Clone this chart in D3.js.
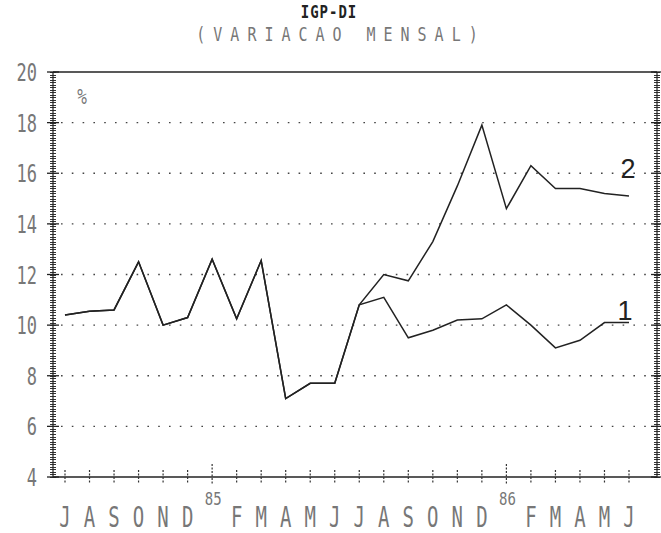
<!DOCTYPE html>
<html>
<head>
<meta charset="utf-8">
<script src="https://d3js.org/d3.v7.min.js"></script>
<style>
    body { margin: 0; background: #fff; }
    .mono { font-family: "DejaVu Sans Mono", monospace; fill: #777; }
</style>
</head>
<body>
<script>
// months from Jul 1984 to Jun 1986, Jan carries the year
var months = ["J", "A", "S", "O", "N", "D", "85", "F", "M", "A", "M", "J",
              "J", "A", "S", "O", "N", "D", "86", "F", "M", "A", "M", "J"];
var series1 = [10.4, 10.55, 10.6, 12.5, 10.0, 10.3, 12.6, 10.25, 12.55, 7.1, 7.7, 7.7,
               10.8, 11.1, 9.5, 9.8, 10.2, 10.25, 10.8, 10.0, 9.1, 9.4, 10.1, 10.1];
var series2 = [10.4, 10.55, 10.6, 12.5, 10.0, 10.3, 12.6, 10.25, 12.55, 7.1, 7.7, 7.7,
               10.8, 12.0, 11.75, 13.3, 15.5, 17.9, 14.6, 16.3, 15.4, 15.4, 15.2, 15.1];
var yTicks = [4, 6, 8, 10, 12, 14, 16, 18, 20];
var seriesNames = ["1", "2"];

var width = 661, height = 533;
var margin = { top: 72, right: 4, bottom: 56, left: 53 };

var svg = d3.select("body").append("svg")
    .attr("width", width)
    .attr("height", height);

var xScale = d3.scalePoint()
    .domain(d3.range(months.length))
    .range([65, 629]);

var yScale = d3.scaleLinear()
    .domain([4, 20])
    .range([height - margin.bottom, margin.top]);

var x0 = margin.left, x1 = width - margin.right;

// dotted grid
svg.append("g").selectAll("line")
    .data(yTicks.filter(function (d) { return d > 4 && d < 20; }))
    .enter().append("line")
    .attr("x1", x0 + 8)
    .attr("x2", x1 - 3)
    .attr("y1", function (d) { return yScale(d); })
    .attr("y2", function (d) { return yScale(d); })
    .attr("stroke", "#444")
    .attr("stroke-width", 1.3)
    .attr("stroke-dasharray", "1.6,9.2");

// hatched left and right axes
var minor = d3.range(4, 20.01, 0.1);
[x0, x1].forEach(function (xa, i) {
    var g = svg.append("g");
    g.selectAll("line.minor")
        .data(minor)
        .enter().append("line")
        .attr("class", "minor")
        .attr("x1", xa - 3)
        .attr("x2", xa + 3)
        .attr("y1", function (d) { return Math.round(yScale(d)) + 0.5; })
        .attr("y2", function (d) { return Math.round(yScale(d)) + 0.5; })
        .attr("stroke", "#333")
        .attr("stroke-width", 1);
    g.selectAll("line.major")
        .data(yTicks)
        .enter().append("line")
        .attr("class", "major")
        .attr("x1", xa - 6)
        .attr("x2", xa + 6)
        .attr("y1", function (d) { return yScale(d); })
        .attr("y2", function (d) { return yScale(d); })
        .attr("stroke", "#222")
        .attr("stroke-width", 1.3);
    g.append("line")
        .attr("x1", xa).attr("x2", xa)
        .attr("y1", yScale(20)).attr("y2", yScale(4))
        .attr("stroke", "#222")
        .attr("stroke-width", 1.2);
});

// top and bottom frame
svg.append("line")
    .attr("x1", x0).attr("x2", x1)
    .attr("y1", yScale(20)).attr("y2", yScale(20))
    .attr("stroke", "#222").attr("stroke-width", 1.6);
svg.append("line")
    .attr("x1", x0).attr("x2", x1)
    .attr("y1", yScale(4)).attr("y2", yScale(4))
    .attr("stroke", "#222").attr("stroke-width", 1.6);

// month ticks, longer at January
svg.append("g").selectAll("line")
    .data(months)
    .enter().append("line")
    .attr("x1", function (d, i) { return xScale(i); })
    .attr("x2", function (d, i) { return xScale(i); })
    .attr("y1", function (d) { return yScale(4) - (d.length > 1 ? 13 : 7); })
    .attr("y2", yScale(4) + 7)
    .attr("stroke", "#333")
    .attr("stroke-width", 1.2)
    .attr("stroke-dasharray", "2,1.5");

// month labels (tall, dot-matrix look)
svg.append("g").selectAll("text")
    .data(months)
    .enter().append("text")
    .attr("class", "mono")
    .attr("text-anchor", "middle")
    .attr("transform", function (d, i) {
        return d.length > 1
            ? "translate(" + (xScale(i) + 1) + ",505) scale(1,1.3)"
            : "translate(" + xScale(i) + ",527) scale(1,1.5)";
    })
    .style("font-size", function (d) { return d.length > 1 ? "14px" : "19px"; })
    .text(function (d) { return d; });

// y labels
svg.append("g").selectAll("text")
    .data(yTicks)
    .enter().append("text")
    .attr("class", "mono")
    .attr("text-anchor", "end")
    .attr("transform", function (d) { return "translate(37," + (yScale(d) + 9) + ") scale(1,1.45)"; })
    .style("font-size", "17px")
    .text(function (d) { return d; });

svg.append("text")
    .attr("class", "mono")
    .attr("transform", "translate(82,104) scale(1,1.3)")
    .attr("text-anchor", "middle")
    .style("font-size", "16px")
    .text("%");

// titles
svg.append("text")
    .attr("transform", "translate(329,18) scale(1,1.3)")
    .attr("text-anchor", "middle")
    .style("font-family", "DejaVu Sans Mono, monospace")
    .style("font-weight", "bold")
    .style("font-size", "14px")
    .style("letter-spacing", "1px")
    .style("fill", "#222")
    .text("IGP-DI");

svg.append("text")
    .attr("transform", "translate(341,41) scale(1,1.3)")
    .attr("text-anchor", "middle")
    .attr("class", "mono")
    .style("font-size", "15px")
    .style("letter-spacing", "8px")
    .text("(VARIACAO MENSAL)");

// series lines
var line = d3.line()
    .x(function (d, i) { return xScale(i); })
    .y(function (d) { return yScale(d); });

svg.append("g").selectAll("path")
    .data([series1, series2])
    .enter().append("path")
    .attr("d", line)
    .attr("fill", "none")
    .attr("stroke", "#222")
    .attr("stroke-width", 1.5);

// series tags at the right end
svg.append("g").selectAll("text")
    .data(seriesNames)
    .enter().append("text")
    .attr("x", function (d, i) { return i == 0 ? 625 : 628; })
    .attr("y", function (d, i) { return i == 0 ? 320 : 178; })
    .attr("text-anchor", "middle")
    .style("font-family", "Liberation Sans, sans-serif")
    .style("font-size", "27px")
    .style("fill", "#222")
    .text(function (d) { return d; });
</script>
</body>
</html>
